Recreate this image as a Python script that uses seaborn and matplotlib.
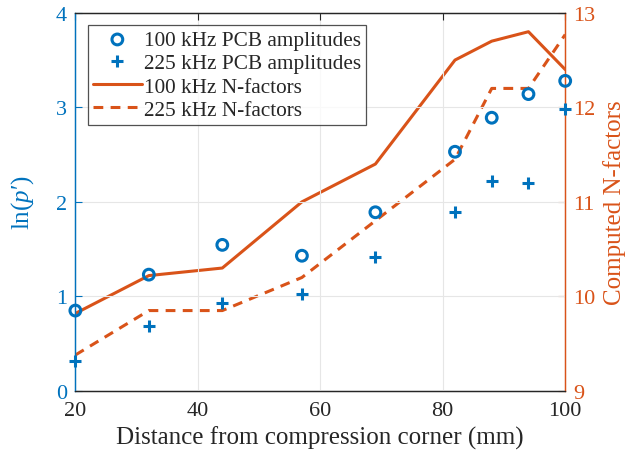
import matplotlib
matplotlib.use("Agg")
import matplotlib.pyplot as plt
import seaborn as sns
import pandas as pd

distance = [20, 32, 44, 57, 69, 82, 88, 94, 100]
amp_100 = [0.85, 1.23, 1.545, 1.43, 1.89, 2.53, 2.89, 3.14, 3.28]
amp_225 = [0.32, 0.69, 0.93, 1.02, 1.42, 1.89, 2.22, 2.20, 2.98]
nfac_100 = [9.82, 10.22, 10.3, 11.0, 11.4, 12.5, 12.7, 12.8, 12.4]
nfac_225 = [9.38, 9.85, 9.85, 10.2, 10.8, 11.45, 12.2, 12.2, 12.77]

BLUE = "#0072BD"
ORANGE = "#D95319"

sns.set_style("white")
plt.rcParams["font.family"] = ["Liberation Serif", "DejaVu Serif"]
plt.rcParams["mathtext.fontset"] = "custom"
plt.rcParams["mathtext.it"] = "Liberation Serif:italic"
plt.rcParams["mathtext.rm"] = "Liberation Serif"

df = pd.DataFrame({"d": distance, "a100": amp_100, "a225": amp_225,
                   "n100": nfac_100, "n225": nfac_225})

fig, ax = plt.subplots(figsize=(6.28, 4.6), dpi=100)
fig.subplots_adjust(left=0.12, right=0.9, top=0.97, bottom=0.148)
ax2 = ax.twinx()

sns.lineplot(data=df, x="d", y="n100", ax=ax2, color=ORANGE, linewidth=2.2,
             label="100 kHz N-factors", legend=False)
sns.lineplot(data=df, x="d", y="n225", ax=ax2, color=ORANGE, linewidth=2.2,
             linestyle=(0, (3.2, 2.4)), label="225 kHz N-factors", legend=False)

sns.scatterplot(data=df, x="d", y="a100", ax=ax, marker="o",
                s=60, facecolor="none", edgecolor=BLUE, linewidth=2.2,
                label="100 kHz PCB amplitudes", legend=False, zorder=5, clip_on=False)
ax.plot(distance, amp_225, linestyle="none", marker="+", markersize=8,
        markeredgewidth=2.2, color=BLUE, label="225 kHz PCB amplitudes",
        zorder=5, clip_on=False)

ax.set_zorder(ax2.get_zorder() + 1)
ax.patch.set_visible(False)

ax.set_xlim(20, 100)
ax.set_ylim(0, 4)
ax2.set_ylim(9, 13)
ax.set_xticks([20, 40, 60, 80, 100])
ax.set_yticks([0, 1, 2, 3, 4])
ax2.set_yticks([9, 10, 11, 12, 13])

ax.grid(True, color="#e6e6e6", linewidth=0.8)
ax.set_axisbelow(True)

ax.set_xlabel("Distance from compression corner (mm)", fontsize=18, color="#262626",
              labelpad=4)
ax.set_ylabel("ln($p$′)", fontsize=18, color=BLUE, labelpad=14)
ax2.set_ylabel("Computed N-factors", fontsize=18, color=ORANGE, labelpad=5)

ax.tick_params(axis="x", labelsize=16, colors="#262626", direction="in", length=5, pad=7)
ax.tick_params(axis="y", labelsize=16, colors=BLUE, direction="in", length=5, pad=6)
ax2.tick_params(axis="y", labelsize=16, colors=ORANGE, direction="in", length=5, pad=6)

for a in (ax, ax2):
    a.spines["left"].set_color(BLUE)
    a.spines["right"].set_color(ORANGE)
    a.spines["top"].set_color("#262626")
    a.spines["bottom"].set_color("#262626")
    for s in a.spines.values():
        s.set_linewidth(0.9)
        s.set_visible(True)
ax.tick_params(axis="x", top=True)

h1, l1 = ax.get_legend_handles_labels()
h2, l2 = ax2.get_legend_handles_labels()
leg = ax.legend(h1 + h2, l1 + l2, loc="upper left", bbox_to_anchor=(0.012, 0.985),
                fontsize=15.3, frameon=True, fancybox=False, edgecolor="#262626",
                handlelength=2.3, handletextpad=0.1, borderpad=0.25,
                labelspacing=0.16, borderaxespad=0.3)
leg.get_frame().set_linewidth(0.9)

fig.savefig("out.png", dpi=100)
